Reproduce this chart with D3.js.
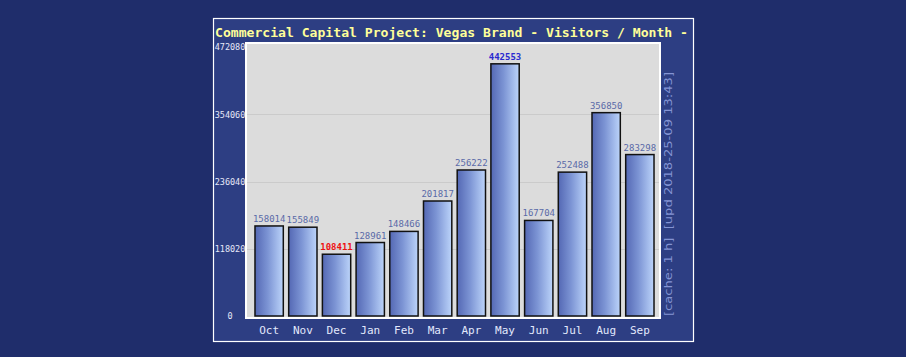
<!DOCTYPE html>
<html><head><meta charset="utf-8">
<script src="https://cdn.jsdelivr.net/npm/d3@7"></script>
<style>html,body{margin:0;padding:0;background:#1f2d6b;}svg{display:block;}</style>
</head><body>
<script>
const months = ["Oct","Nov","Dec","Jan","Feb","Mar","Apr","May","Jun","Jul","Aug","Sep"];
const visitors = [158014,155849,108411,128961,148466,201817,256222,442553,167704,252488,356850,283298];
const yTicks = [0,118020,236040,354060,472080];
const title = "Commercial Capital Project: Vegas Brand - Visitors / Month -";
const sideNote = "[cache: 1 h]  [upd 2018-25-09 13:43]";

const W = 906, H = 357;
const svg = d3.select("body").append("svg").attr("width", W).attr("height", H);
const defs = svg.append("defs");
const grad = defs.append("linearGradient").attr("id","barGrad").attr("x1","0%").attr("x2","100%").attr("y1","0%").attr("y2","0%");
grad.append("stop").attr("offset","0%").attr("stop-color","#5468b4");
grad.append("stop").attr("offset","45%").attr("stop-color","#7c94d4");
grad.append("stop").attr("offset","100%").attr("stop-color","#bcd4fa");

svg.append("rect").attr("width",W).attr("height",H).attr("fill","#1f2d6b");
// frame
svg.append("rect").attr("x",213.5).attr("y",18.5).attr("width",480).attr("height",323)
  .attr("fill","#2d3e83").attr("stroke","#ffffff").attr("stroke-width",1.2);

svg.append("text").attr("x",215).attr("y",37).text(title)
  .attr("font-family","DejaVu Sans Mono").attr("font-weight","bold").attr("font-size",13)
  .attr("fill","#ffff99").attr("textLength",473).attr("lengthAdjust","spacingAndGlyphs");

// plot area
const px0 = 246, px1 = 660, py0 = 43, py1 = 317;
svg.append("rect").attr("x",px0).attr("y",py0).attr("width",px1-px0).attr("height",py1-py0+1)
  .attr("fill","#dcdcdc").attr("stroke","#ffffff").attr("stroke-width",2);

const y = d3.scaleLinear().domain([0,472080]).range([316,47]);
const x = d3.scaleBand().domain(months).range([250,659]).paddingInner(0.16).paddingOuter(0.148);

// gridlines
svg.append("g").selectAll("line").data(yTicks.filter(d=>d>0 && d<472080)).join("line")
  .attr("x1",px0+1).attr("x2",px1-1).attr("y1",d=>Math.round(y(d))+0.5).attr("y2",d=>Math.round(y(d))+0.5)
  .attr("stroke","#cbcbcb").attr("stroke-width",1);

// y axis labels
const yAxis = d3.axisLeft(y).tickValues(yTicks).tickSize(0).tickPadding(0).tickFormat(d3.format("d"));
const ya = svg.append("g").attr("transform","translate(230,0)").call(yAxis);
ya.select(".domain").remove();
ya.selectAll("text").attr("text-anchor","middle").attr("font-family","DejaVu Sans Mono").attr("font-size",8.5).attr("fill","#e6e8f8").attr("dy","0.35em");

// x axis labels
const xAxis = d3.axisBottom(x).tickSize(0).tickPadding(0);
const xa = svg.append("g").attr("transform","translate(0,326)").call(xAxis);
xa.select(".domain").remove();
xa.selectAll("text").attr("font-family","DejaVu Sans Mono").attr("font-size",11).attr("fill","#e2e8fc").attr("dy","0.75em");

const maxV = d3.max(visitors), minV = d3.min(visitors);
// bars
svg.append("g").selectAll("rect").data(visitors).join("rect")
  .attr("x",(d,i)=>x(months[i])).attr("width",x.bandwidth())
  .attr("y",d=>y(d)).attr("height",d=>y(0)-y(d))
  .attr("fill","url(#barGrad)").attr("stroke","#111111").attr("stroke-width",1.5);

// value labels
svg.append("g").selectAll("text").data(visitors).join("text")
  .attr("x",(d,i)=>x(months[i])+x.bandwidth()/2).attr("y",d=>y(d)-4)
  .attr("text-anchor","middle").attr("font-family","DejaVu Sans Mono").attr("font-size",9)
  .attr("font-weight",d=>(d===minV||d===maxV)?"bold":"normal")
  .attr("fill",d=>d===maxV?"#2a2ad0":(d===minV?"#ee1111":"#5a6aa8"))
  .text(d=>d);

// side note
svg.append("text").attr("transform","translate(672,316) rotate(-90)")
  .attr("font-family","DejaVu Sans").attr("font-size",10.5).attr("fill","#8494d4")
  .attr("xml:space","preserve").style("white-space","pre")
  .attr("textLength",244).attr("lengthAdjust","spacingAndGlyphs")
  .text(sideNote);
</script>
</body></html>
